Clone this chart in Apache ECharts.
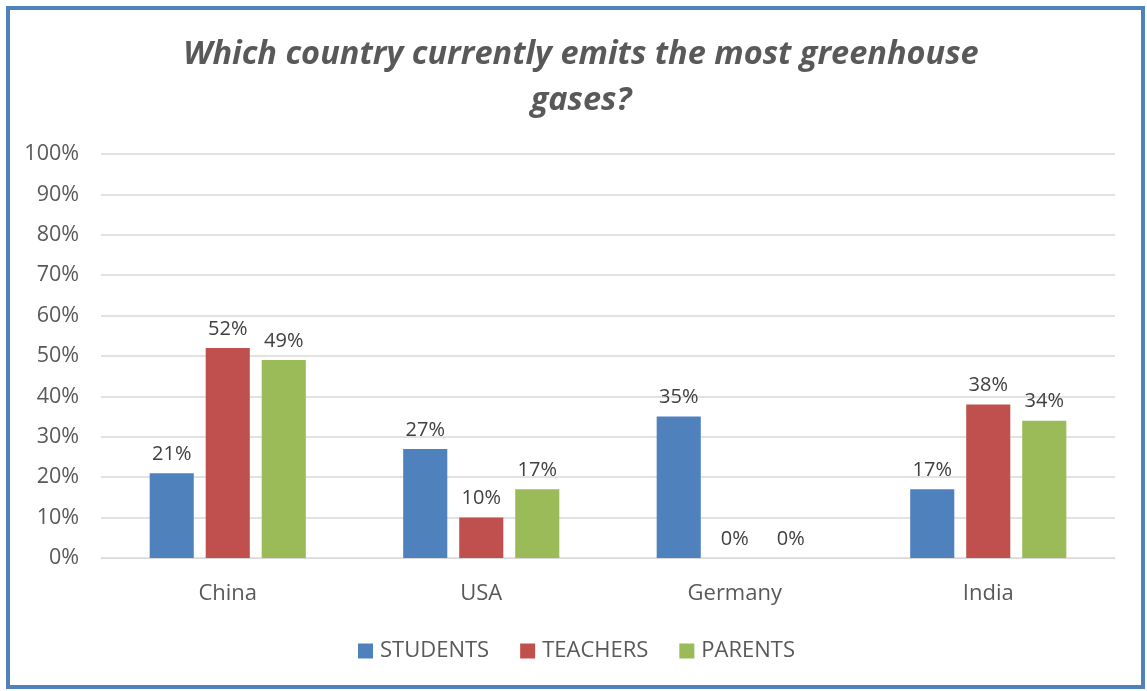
<!DOCTYPE html>
<html>
<head>
<meta charset="utf-8">
<script src="https://cdn.jsdelivr.net/npm/echarts@6/dist/echarts.min.js"></script>
<style>
html,body{margin:0;padding:0;background:#fff;}
#c{width:1147px;height:691px;}
</style>
</head>
<body>
<div id="c"></div>
<script>
const titleText = "Which country currently emits the most greenhouse\ngases?";
const categories = ["China", "USA", "Germany", "India"];
const seriesNames = ["STUDENTS", "TEACHERS", "PARENTS"];
const students = [21, 27, 35, 17];
const teachers = [52, 10, 0, 38];
const parents = [49, 17, 0, 34];
const colors = ["#4F81BD", "#C0504D", "#9BBB59"];

const values = [students, teachers, parents];
const chart = echarts.init(document.getElementById('c'), null, {renderer: 'canvas'});
const font = "'Open Sans', sans-serif";
chart.setOption({
  animation: false,
  backgroundColor: '#fff',
  title: {
    text: titleText,
    left: 576,
    textAlign: 'center',
    top: 27,
    textStyle: {
      fontFamily: font, fontSize: 32.5, fontStyle: 'italic', fontWeight: 'bold',
      color: '#595959', lineHeight: 46
    }
  },
  legend: {
    data: seriesNames,
    left: 353,
    top: 635,
    icon: 'rect',
    itemWidth: 15, itemHeight: 15,
    itemGap: 31,
    textStyle: {fontFamily: font, fontSize: 22, color: '#595959', padding: [0,0,0,2]}
  },
  grid: {left: 101, right: 32, top: 154, bottom: 133, containLabel: false},
  xAxis: {
    type: 'category',
    data: categories,
    axisLine: {show: true, lineStyle: {color: '#D9D9D9', width: 1}},
    axisTick: {show: false},
    axisLabel: {fontFamily: font, fontSize: 22, color: '#595959', margin: 25}
  },
  yAxis: {
    type: 'value',
    min: 0, max: 100, interval: 10,
    axisLine: {show: false},
    axisTick: {show: false},
    axisLabel: {fontFamily: font, fontSize: 21.5, color: '#595959', margin: 22, formatter: '{value}%'},
    splitLine: {lineStyle: {color: '#D9D9D9', width: 1.5}}
  },
  series: seriesNames.map((n, i) => ({
    name: n,
    type: 'bar',
    data: values[i],
    barWidth: '17.4%',
    barGap: '27%',
    itemStyle: {color: colors[i]},
    label: {
      show: true, position: 'top', distance: 9,
      formatter: '{c}%',
      fontFamily: font, fontSize: 20, color: '#404040'
    }
  })),
  graphic: [{
    type: 'rect',
    shape: {x: 8, y: 8, width: 1135, height: 679},
    style: {fill: 'none', stroke: '#4F81BD', lineWidth: 4},
    silent: true
  }]
});
</script>
</body>
</html>
